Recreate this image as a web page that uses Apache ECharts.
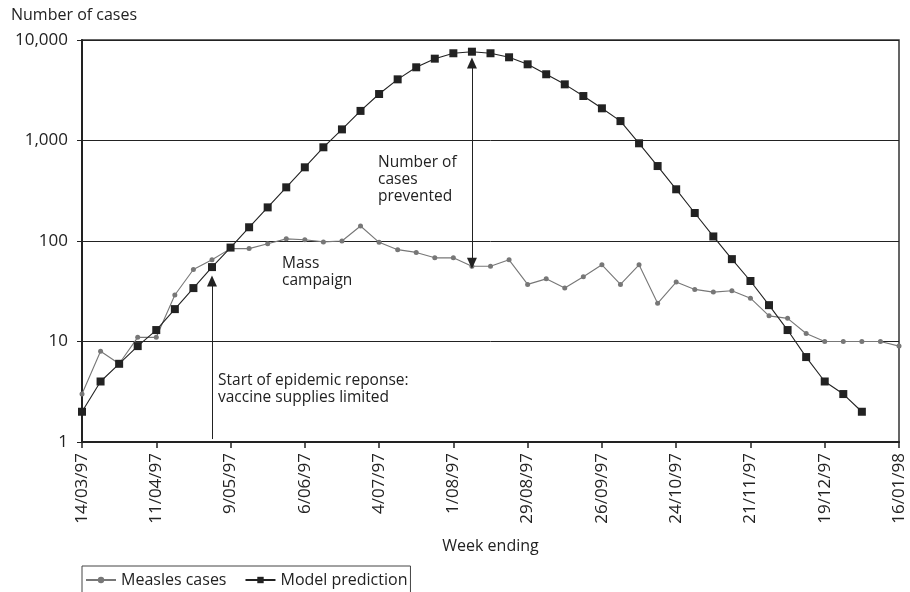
<!DOCTYPE html>
<html>
<head>
<meta charset="utf-8">
<script src="https://cdn.jsdelivr.net/npm/echarts@6/dist/echarts.min.js"></script>
<style>
  html, body { margin: 0; padding: 0; background: #fff; }
  #main { width: 910px; height: 592px; }
</style>
</head>
<body>
<div id="main"></div>
<script>
var weeks = ['14/03/97', '21/03/97', '28/03/97', '4/04/97', '11/04/97', '18/04/97', '25/04/97', '2/05/97',
    '9/05/97', '16/05/97', '23/05/97', '30/05/97', '6/06/97', '13/06/97', '20/06/97', '27/06/97',
    '4/07/97', '11/07/97', '18/07/97', '25/07/97', '1/08/97', '8/08/97', '15/08/97', '22/08/97',
    '29/08/97', '5/09/97', '12/09/97', '19/09/97', '26/09/97', '3/10/97', '10/10/97', '17/10/97',
    '24/10/97', '31/10/97', '7/11/97', '14/11/97', '21/11/97', '28/11/97', '5/12/97', '12/12/97',
    '19/12/97', '26/12/97', '2/01/98', '9/01/98', '16/01/98'];

var measles = [3, 8, 6, 11, 11, 29, 52, 65, 84, 84, 94, 105, 103, 98, 100, 141,
    97, 82, 77, 68, 68, 56, 56, 65, 37, 42, 34, 44, 58, 37, 58, 24,
    39, 33, 31, 32, 27, 18, 17, 12, 10, 10, 10, 10, 9];

var model = [2, 4, 6, 9, 13, 21, 34, 55, 86, 137, 216, 342, 541, 856, 1290, 1970,
    2900, 4060, 5350, 6520, 7380, 7650, 7380, 6730, 5730, 4560, 3620, 2770, 2090, 1560, 938, 557,
    327, 190, 111, 66, 40, 23, 13, 7, 4, 3, 2];

var chartDom = document.getElementById('main');
var myChart = echarts.init(chartDom);
var font = 'Open Sans';
var ink = '#222';
var option;

option = {
    animation: false,
    textStyle: { fontFamily: font, color: ink },
    grid: {
        left: 82,
        right: 11,
        top: 40,
        bottom: 150,
        show: true,
        borderColor: '#333',
        borderWidth: 1.5
    },
    legend: {
        left: 82,
        top: 566,
        data: ['Measles cases', 'Model prediction'],
        itemWidth: 30,
        itemHeight: 8,
        itemGap: 18,
        padding: [6, 3, 8, 3],
        borderColor: '#444',
        borderWidth: 1,
        textStyle: { fontFamily: font, fontSize: 16, color: ink }
    },
    xAxis: {
        type: 'category',
        data: weeks,
        boundaryGap: false,
        name: 'Week ending',
        nameLocation: 'middle',
        nameGap: 96,
        nameTextStyle: { fontFamily: font, fontSize: 16, color: ink },
        axisLine: { lineStyle: { color: ink, width: 2 } },
        axisTick: { interval: 3, length: 6, lineStyle: { color: ink, width: 1.5 } },
        axisLabel: { interval: 3, rotate: 90, fontSize: 17, color: ink, margin: 11 },
        splitLine: { show: false }
    },
    yAxis: {
        type: 'log',
        logBase: 10,
        min: 1,
        max: 10000,
        axisLine: { show: true, lineStyle: { color: ink, width: 2 } },
        axisTick: { show: true, length: 5, lineStyle: { color: ink } },
        axisLabel: {
            fontSize: 17,
            color: ink,
            margin: 14,
            formatter: function(v) { return v.toLocaleString('en-US'); }
        },
        splitLine: { lineStyle: { color: ink, width: 1 } }
    },
    graphic: [{
        type: 'text',
        left: 11,
        top: 7,
        style: { text: 'Number of cases', fontFamily: font, fontSize: 16, fill: ink }
    }, {
        type: 'text',
        left: 378,
        top: 154,
        style: { text: 'Number of\ncases\nprevented', fontFamily: font, fontSize: 15.5, lineHeight: 17, fill: ink }
    }, {
        type: 'text',
        left: 282,
        top: 255,
        style: { text: 'Mass\ncampaign', fontFamily: font, fontSize: 15.5, lineHeight: 17, fill: ink }
    }, {
        type: 'text',
        left: 218,
        top: 372,
        style: { text: 'Start of epidemic reponse:\nvaccine supplies limited', fontFamily: font, fontSize: 15.5, lineHeight: 17, fill: ink }
    }],
    series: [{
        name: 'Measles cases',
        type: 'line',
        data: measles,
        symbol: 'circle',
        symbolSize: 5,
        itemStyle: { color: '#777' },
        lineStyle: { color: '#777', width: 1.1 },
        z: 2
    }, {
        name: 'Model prediction',
        type: 'line',
        data: model,
        symbol: 'rect',
        symbolSize: 8,
        itemStyle: { color: ink },
        lineStyle: { color: ink, width: 1.1 },
        z: 3,
        markLine: {
            silent: true,
            symbol: ['triangle', 'triangle'],
            symbolSize: [10, 11],
            label: { show: false },
            lineStyle: { color: ink, width: 1, type: 'solid' },
            data: [
                [{ coord: ['8/08/97', 5900] }, { coord: ['8/08/97', 60] }],
                [{ coord: ['2/05/97', 1.07], symbol: 'none' }, { coord: ['2/05/97', 40], symbol: 'triangle' }]
            ]
        }
    }]
};

option && myChart.setOption(option);
</script>
</body>
</html>
